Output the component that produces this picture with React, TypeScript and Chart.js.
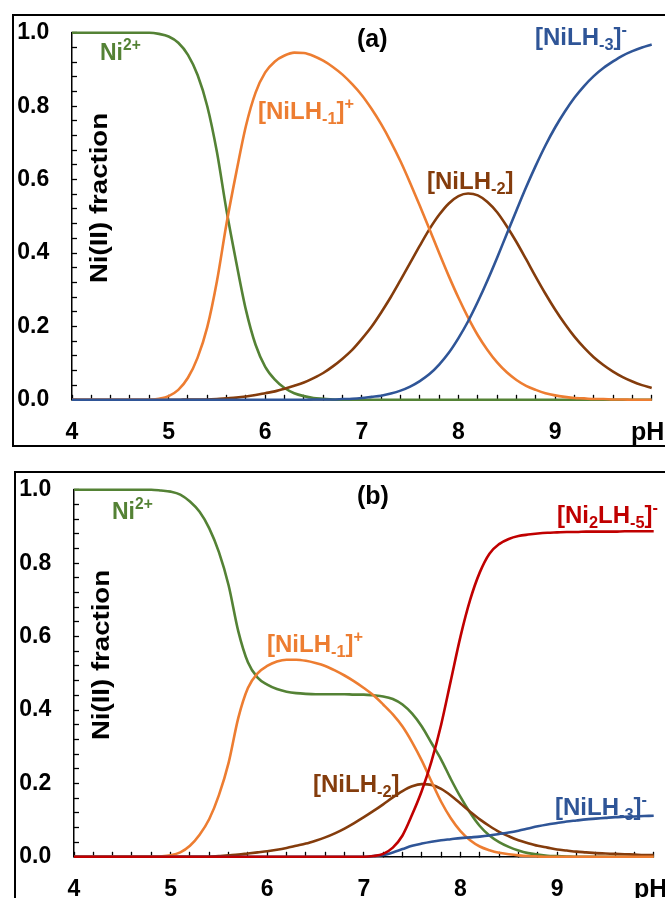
import React, { useEffect, useRef } from "react";
import { Chart, registerables } from "chart.js";

Chart.register(...registerables);

const FONT = '"Liberation Sans", Arial, Helvetica, sans-serif';

// ---------- data ----------
const PH = [
  4.0, 4.1, 4.2, 4.3, 4.4, 4.5, 4.6, 4.7, 4.8, 4.9,
  5.0, 5.1, 5.2, 5.3, 5.4, 5.5, 5.6, 5.7, 5.8, 5.9,
  6.0, 6.1, 6.2, 6.3, 6.4, 6.5, 6.6, 6.7, 6.8, 6.9,
  7.0, 7.1, 7.2, 7.3, 7.4, 7.5, 7.6, 7.7, 7.8, 7.9,
  8.0, 8.1, 8.2, 8.3, 8.4, 8.5, 8.6, 8.7, 8.8, 8.9,
  9.0, 9.1, 9.2, 9.3, 9.4, 9.5, 9.6, 9.7, 9.8, 9.9,
  10.0,
];

const X_TICK_LABELS = ["4", "5", "6", "7", "8", "9"];
const Y_TICK_LABELS = ["0.0", "0.2", "0.4", "0.6", "0.8", "1.0"];

// Panel (a)
const A_NI = [
  1, 1, 1, 1, 1, 1, 1, 1, 1, 0.997,
  0.99, 0.973, 0.94, 0.885, 0.8, 0.675, 0.515, 0.375, 0.245, 0.15,
  0.09, 0.055, 0.032, 0.018, 0.01, 0.005, 0.003, 0.001, 0, 0,
  0, 0, 0, 0, 0, 0, 0, 0, 0, 0,
  0, 0, 0, 0, 0, 0, 0, 0, 0, 0,
  0, 0, 0, 0, 0, 0, 0, 0, 0, 0,
  0,
];
const A_NILH1 = [
  0, 0, 0, 0, 0, 0, 0, 0, 0, 0.003,
  0.01, 0.027, 0.06, 0.115, 0.198, 0.323, 0.481, 0.619, 0.746, 0.837,
  0.892, 0.922, 0.938, 0.946, 0.945, 0.937, 0.924, 0.907, 0.886, 0.86,
  0.83, 0.793, 0.751, 0.703, 0.65, 0.591, 0.529, 0.465, 0.4, 0.337,
  0.278, 0.224, 0.176, 0.136, 0.102, 0.075, 0.054, 0.038, 0.027, 0.018,
  0.012, 0.008, 0.005, 0.004, 0.002, 0.002, 0.001, 0.001, 0, 0,
  0,
];
const A_NILH2 = [
  0, 0, 0, 0, 0, 0, 0, 0, 0, 0,
  0, 0, 0.001, 0.001, 0.001, 0.002, 0.004, 0.006, 0.009, 0.013,
  0.018, 0.023, 0.03, 0.038, 0.047, 0.059, 0.073, 0.091, 0.112, 0.136,
  0.166, 0.199, 0.238, 0.28, 0.326, 0.373, 0.42, 0.465, 0.504, 0.535,
  0.555, 0.562, 0.557, 0.539, 0.511, 0.473, 0.43, 0.383, 0.335, 0.289,
  0.246, 0.207, 0.172, 0.142, 0.116, 0.095, 0.077, 0.062, 0.05, 0.04,
  0.032,
];
const A_NILH3 = [
  0, 0, 0, 0, 0, 0, 0, 0, 0, 0,
  0, 0, 0, 0, 0, 0, 0, 0, 0, 0,
  0, 0, 0, 0, 0, 0.001, 0.001, 0.001, 0.002, 0.003,
  0.005, 0.008, 0.011, 0.017, 0.025, 0.036, 0.051, 0.07, 0.096, 0.128,
  0.168, 0.214, 0.267, 0.325, 0.387, 0.452, 0.516, 0.579, 0.638, 0.693,
  0.742, 0.785, 0.823, 0.855, 0.882, 0.904, 0.922, 0.938, 0.95, 0.96,
  0.968,
];

// Panel (b)
const B_NI = [
  1, 1, 1, 1, 1, 1, 1, 1, 1, 0.998,
  0.995, 0.987, 0.968, 0.94, 0.895, 0.83, 0.74, 0.615, 0.53, 0.488,
  0.469, 0.457, 0.45, 0.446, 0.444, 0.443, 0.443, 0.443, 0.443, 0.442,
  0.442, 0.44, 0.437, 0.43, 0.415, 0.39, 0.355, 0.31, 0.265, 0.212,
  0.163, 0.12, 0.084, 0.058, 0.04, 0.027, 0.017, 0.01, 0.006, 0.003,
  0.002, 0.001, 0, 0, 0, 0, 0, 0, 0, 0,
  0,
];
const B_NILH1 = [
  0, 0, 0, 0, 0, 0, 0, 0, 0, 0.001,
  0.004, 0.012, 0.03, 0.06, 0.103, 0.168, 0.256, 0.378, 0.46, 0.5,
  0.52, 0.532, 0.537, 0.537, 0.534, 0.528, 0.52, 0.508, 0.494, 0.478,
  0.46, 0.44, 0.415, 0.388, 0.355, 0.312, 0.262, 0.205, 0.15, 0.105,
  0.07, 0.045, 0.028, 0.018, 0.011, 0.007, 0.004, 0.002, 0.001, 0,
  0, 0, 0, 0, 0, 0, 0, 0, 0, 0,
  0,
];
const B_NILH2 = [
  0, 0, 0, 0, 0, 0, 0, 0, 0, 0,
  0, 0, 0, 0, 0, 0.002, 0.004, 0.006, 0.009, 0.012,
  0.015, 0.019, 0.024, 0.03, 0.036, 0.044, 0.053, 0.064, 0.077, 0.092,
  0.108, 0.125, 0.143, 0.162, 0.179, 0.192, 0.198, 0.196, 0.185, 0.167,
  0.145, 0.123, 0.102, 0.084, 0.068, 0.056, 0.045, 0.037, 0.03, 0.025,
  0.02, 0.017, 0.014, 0.012, 0.01, 0.009, 0.008, 0.007, 0.006, 0.005,
  0.005,
];
const B_NILH3 = [
  0, 0, 0, 0, 0, 0, 0, 0, 0, 0,
  0, 0, 0, 0, 0, 0, 0, 0, 0, 0,
  0, 0, 0, 0, 0, 0, 0, 0, 0, 0,
  0, 0.002, 0.005, 0.012, 0.021, 0.03, 0.036, 0.041, 0.045, 0.048,
  0.051, 0.053, 0.055, 0.058, 0.062, 0.066, 0.071, 0.077, 0.083, 0.088,
  0.092, 0.096, 0.099, 0.102, 0.104, 0.106, 0.108, 0.109, 0.11, 0.111,
  0.112,
];
const B_NI2LH5 = [
  0, 0, 0, 0, 0, 0, 0, 0, 0, 0,
  0, 0, 0, 0, 0, 0, 0, 0, 0, 0,
  0, 0, 0, 0, 0, 0, 0, 0, 0, 0,
  0, 0.002, 0.008, 0.025, 0.058, 0.115, 0.18, 0.26, 0.36, 0.48,
  0.6, 0.7, 0.775, 0.826, 0.852, 0.866, 0.874, 0.878, 0.881, 0.883,
  0.884, 0.885, 0.885, 0.886, 0.886, 0.886, 0.886, 0.887, 0.887, 0.887,
  0.887,
];

// ---------- styling ----------
const GREEN = "#548235";
const ORANGE = "#ED7D31";
const BROWN = "#843C0C";
const BLUE = "#2F5597";
const RED = "#C00000";

type Series = { name: string; color: string; values: number[]; order: number };

const SERIES_A: Series[] = [
  { name: "Ni2+", color: GREEN, values: A_NI, order: 3 },
  { name: "[NiLH-1]+", color: ORANGE, values: A_NILH1, order: 1 },
  { name: "[NiLH-2]", color: BROWN, values: A_NILH2, order: 2 },
  { name: "[NiLH-3]-", color: BLUE, values: A_NILH3, order: 0 },
];
const SERIES_B: Series[] = [
  { name: "Ni2+", color: GREEN, values: B_NI, order: 4 },
  { name: "[NiLH-1]+", color: ORANGE, values: B_NILH1, order: 2 },
  { name: "[NiLH-2]", color: BROWN, values: B_NILH2, order: 3 },
  { name: "[NiLH-3]-", color: BLUE, values: B_NILH3, order: 1 },
  { name: "[Ni2LH-5]-", color: RED, values: B_NI2LH5, order: 0 },
];

type Part = [string, "n" | "sub" | "sup"];
type Lbl = { parts: Part[]; color: string; left: number; baseline: number; size: number };

const LABELS: Lbl[] = [
  // panel (a)
  { parts: [["(a)", "n"]], color: "#000", left: 357, baseline: 47, size: 25 },
  { parts: [["Ni", "n"], ["2+", "sup"]], color: GREEN, left: 100, baseline: 60, size: 23 },
  { parts: [["[NiLH", "n"], ["-1", "sub"], ["]", "n"], ["+", "sup"]], color: ORANGE, left: 258, baseline: 119, size: 24 },
  { parts: [["[NiLH", "n"], ["-2", "sub"], ["]", "n"]], color: BROWN, left: 427, baseline: 189, size: 24 },
  { parts: [["[NiLH", "n"], ["-3", "sub"], ["]", "n"], ["-", "sup"]], color: BLUE, left: 535, baseline: 45, size: 24 },
  { parts: [["pH", "n"]], color: "#000", left: 631, baseline: 440, size: 25 },
  // panel (b)
  { parts: [["(b)", "n"]], color: "#000", left: 357, baseline: 504, size: 25 },
  { parts: [["Ni", "n"], ["2+", "sup"]], color: GREEN, left: 112, baseline: 519, size: 23 },
  { parts: [["[Ni", "n"], ["2", "sub"], ["LH", "n"], ["-5", "sub"], ["]", "n"], ["-", "sup"]], color: RED, left: 557, baseline: 523, size: 24 },
  { parts: [["[NiLH", "n"], ["-1", "sub"], ["]", "n"], ["+", "sup"]], color: ORANGE, left: 267, baseline: 652, size: 24 },
  { parts: [["[NiLH", "n"], ["-2", "sub"], ["]", "n"]], color: BROWN, left: 313, baseline: 792, size: 24 },
  { parts: [["[NiLH", "n"], ["-3", "sub"], ["]", "n"], ["-", "sup"]], color: BLUE, left: 555, baseline: 815, size: 24 },
  { parts: [["pH", "n"]], color: "#000", left: 634, baseline: 897, size: 25 },
];

function Rich({ l }: { l: Lbl }) {
  return (
    <div
      style={{
        position: "absolute",
        left: l.left,
        top: l.baseline - 0.8465 * l.size,
        fontFamily: FONT,
        fontWeight: "bold",
        fontSize: l.size,
        lineHeight: 1,
        color: l.color,
        whiteSpace: "nowrap",
      }}
    >
      {l.parts.map(([t, k], i) =>
        k === "n" ? (
          <span key={i}>{t}</span>
        ) : (
          <span
            key={i}
            style={{
              fontSize: "0.68em",
              position: "relative",
              top: k === "sub" ? "0.3em" : "-0.62em",
              lineHeight: 1,
            }}
          >
            {t}
          </span>
        )
      )}
    </div>
  );
}

function YTitle({ cx, cy }: { cx: number; cy: number }) {
  return (
    <div style={{ position: "absolute", left: cx, top: cy, width: 0, height: 0 }}>
      <span
        style={{
          position: "absolute",
          left: 0,
          top: 0,
          transform: "translate(-50%, -50%) rotate(-90deg) scaleX(1.2)",
          fontFamily: FONT,
          fontWeight: "bold",
          fontSize: 23,
          lineHeight: 1,
          whiteSpace: "nowrap",
          color: "#000",
        }}
      >
        Ni(II) fraction
      </span>
    </div>
  );
}

const CANVAS_W = 660;
const CANVAS_H = 429;

function Panel({ series, left, top }: { series: Series[]; left: number; top: number }) {
  const ref = useRef<HTMLCanvasElement | null>(null);
  useEffect(() => {
    const canvas = ref.current;
    if (!canvas) return;
    const tickFont = { family: FONT, size: 23, weight: "bold" as const };
    const chart = new Chart(canvas, {
      type: "line",
      data: {
        datasets: series.map((s) => ({
          label: s.name,
          data: PH.map((x, i) => ({ x, y: s.values[i] })),
          borderColor: s.color,
          backgroundColor: s.color,
          borderWidth: 2.6,
          pointRadius: 0,
          fill: false,
          cubicInterpolationMode: "monotone" as const,
          order: s.order,
          clip: false as any,
        })),
      },
      options: {
        animation: false,
        responsive: false,
        maintainAspectRatio: false,
        events: [],
        layout: { padding: { left: 0, top: 16.8, right: 22.3, bottom: 0 } },
        plugins: {
          legend: { display: false },
          tooltip: { enabled: false },
          title: { display: false },
        },
        scales: {
          x: {
            type: "linear",
            min: 4,
            max: 10,
            afterFit: (s: any) => {
              s.height = 45.2;
              s.paddingLeft = 0;
              s.paddingRight = 0;
            },
            grid: {
              display: true,
              drawOnChartArea: false,
              drawTicks: true,
              tickLength: -5,
              tickWidth: 1.3,
              tickColor: "#000",
            },
            border: { display: true, color: "#000", width: 1.5 },
            ticks: {
              stepSize: 0.2,
              autoSkip: false,
              maxRotation: 0,
              minRotation: 0,
              padding: 23.6,
              color: "#000",
              font: tickFont,
              callback: (v: any) => {
                const n = Number(v);
                const r = Math.round(n);
                if (Math.abs(n - r) < 1e-6 && r >= 4 && r <= 9) return X_TICK_LABELS[r - 4];
                return "";
              },
            },
          },
          y: {
            type: "linear",
            min: 0,
            max: 1,
            afterFit: (s: any) => {
              s.width = 58;
              s.paddingTop = 0;
              s.paddingBottom = 0;
            },
            grid: {
              display: true,
              drawOnChartArea: false,
              drawTicks: true,
              tickLength: -5,
              tickWidth: 1.3,
              tickColor: "#000",
            },
            border: { display: true, color: "#000", width: 1.5 },
            ticks: {
              stepSize: 0.04,
              autoSkip: false,
              padding: 27.7,
              color: "#000",
              font: tickFont,
              callback: (v: any) => {
                const n = Number(v);
                const k = Math.round(n / 0.2);
                if (Math.abs(n - k * 0.2) < 1e-6) return Y_TICK_LABELS[k];
                return "";
              },
            },
          },
        },
      } as any,
    });
    return () => chart.destroy();
  }, [series]);

  return (
    <div
      style={{
        position: "absolute",
        left,
        top,
        width: 720,
        height: 433,
        border: "2px solid #000",
        boxSizing: "border-box",
        background: "#fff",
      }}
    >
      <canvas
        ref={ref}
        width={CANVAS_W}
        height={CANVAS_H}
        style={{ position: "absolute", left: 0, top: 0, display: "block" }}
      />
    </div>
  );
}

export default function App() {
  return (
    <div
      style={{
        position: "fixed",
        left: 0,
        top: 0,
        width: 665,
        height: 898,
        overflow: "hidden",
        background: "#fff",
      }}
    >
      <Panel series={SERIES_A} left={12} top={13.5} />
      <Panel series={SERIES_B} left={14.3} top={470.7} />
      <YTitle cx={99} cy={198} />
      <YTitle cx={101.3} cy={655} />
      {LABELS.map((l, i) => (
        <Rich key={i} l={l} />
      ))}
    </div>
  );
}
